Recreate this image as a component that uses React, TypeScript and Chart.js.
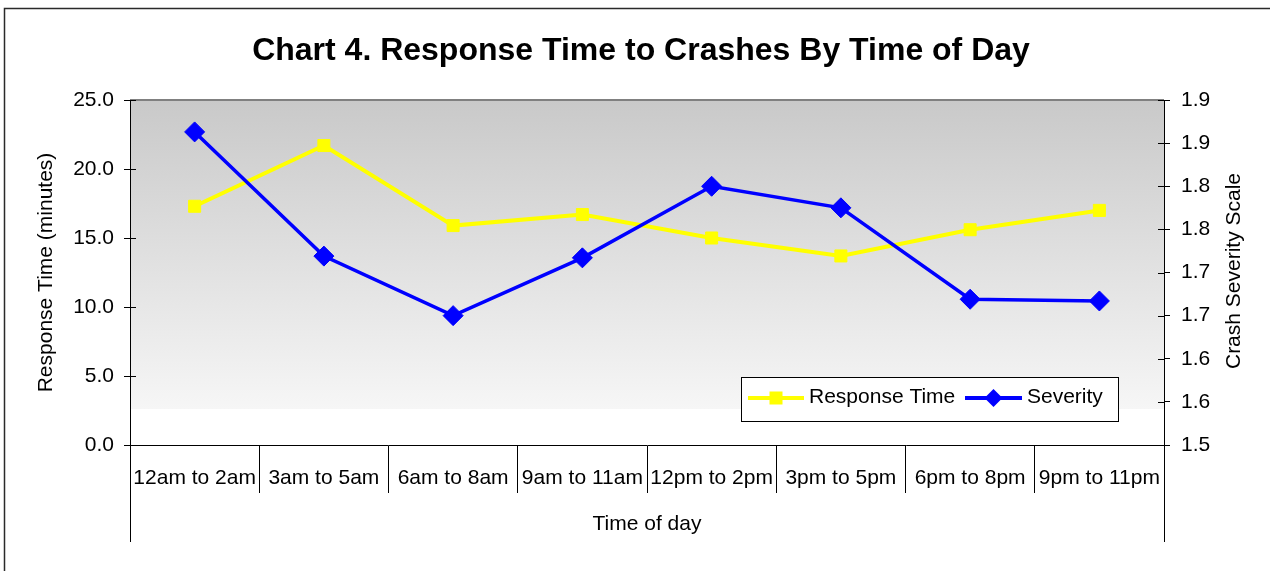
import React, { useEffect, useRef } from 'react';
import { Chart, registerables } from 'chart.js';

Chart.register(...registerables);

const chartTitle = 'Chart 4. Response Time to Crashes By Time of Day';
const categories = [
  '12am to 2am',
  '3am to 5am',
  '6am to 8am',
  '9am to 11am',
  '12pm to 2pm',
  '3pm to 5pm',
  '6pm to 8pm',
  '9pm to 11pm',
];
const responseTime = [17.3, 21.7, 15.9, 16.7, 15.0, 13.7, 15.6, 17.0];
const severity = [1.863, 1.719, 1.65, 1.717, 1.8, 1.775, 1.669, 1.667];
const leftAxis = { min: 0, max: 25, step: 5 };
const rightAxis = { min: 1.5, max: 1.9, step: 0.05 };
const xTitle = 'Time of day';
const leftTitle = 'Response Time (minutes)';
const rightTitle = 'Crash Severity Scale';

const FAMILY = '"Liberation Sans", Arial, sans-serif';
const FONT = { family: FAMILY, size: 21 };

const fmt1 = (v: number) => (Math.round(v * 10 + 1e-9) / 10).toFixed(1);

const decor = {
  id: 'decor',
  beforeDraw(chart: any) {
    const { ctx, chartArea: a } = chart;
    ctx.save();
    ctx.fillStyle = '#ffffff';
    ctx.fillRect(0, 0, chart.width, chart.height);
    // outer border
    ctx.strokeStyle = '#2a2a2a';
    ctx.lineWidth = 1.5;
    ctx.strokeRect(4.5, 8.5, chart.width + 20, chart.height + 20);
    // plot gradient
    const gEnd = 409;
    const g = ctx.createLinearGradient(0, a.top, 0, gEnd);
    g.addColorStop(0, '#c9c9c9');
    g.addColorStop(1, '#f6f6f6');
    ctx.fillStyle = g;
    ctx.fillRect(a.left, a.top, a.right - a.left, gEnd - a.top);
    // top border
    ctx.strokeStyle = '#808080';
    ctx.lineWidth = 2;
    ctx.beginPath();
    ctx.moveTo(a.left, a.top);
    ctx.lineTo(a.right, a.top);
    ctx.stroke();
    ctx.restore();
  },
  afterDraw(chart: any) {
    const { ctx, chartArea: a } = chart;
    ctx.save();
    ctx.strokeStyle = '#000';
    ctx.lineWidth = 1;
    // inner tick halves
    const y = chart.scales.y;
    y.ticks.forEach((_t: any, i: number) => {
      const p = Math.round(y.getPixelForTick(i)) + 0.5;
      ctx.beginPath();
      ctx.moveTo(a.left, p);
      ctx.lineTo(a.left + 6, p);
      ctx.stroke();
    });
    const y1 = chart.scales.y1;
    y1.ticks.forEach((_t: any, i: number) => {
      const p = Math.round(y1.getPixelForTick(i)) + 0.5;
      ctx.beginPath();
      ctx.moveTo(a.right - 6, p);
      ctx.lineTo(a.right, p);
      ctx.stroke();
    });
    // edge extensions of category axis
    [a.left, a.right].forEach((x: number) => {
      const px = Math.round(x) + 0.5;
      ctx.beginPath();
      ctx.moveTo(px, a.bottom);
      ctx.lineTo(px, 542);
      ctx.stroke();
    });
    // title
    ctx.fillStyle = '#000';
    ctx.font = `bold 32px ${FAMILY}`;
    ctx.textAlign = 'center';
    ctx.textBaseline = 'middle';
    ctx.fillText(chartTitle, 641, 51);
    // right axis title
    ctx.font = `21px ${FAMILY}`;
    ctx.save();
    ctx.translate(1234, 271);
    ctx.rotate(-Math.PI / 2);
    ctx.fillText(rightTitle, 0, 0);
    ctx.restore();
    // legend
    const L = { x: 741, y: 377, w: 377, h: 44 };
    ctx.fillStyle = '#fff';
    ctx.fillRect(L.x, L.y, L.w, L.h);
    ctx.strokeStyle = '#000';
    ctx.lineWidth = 1;
    ctx.strokeRect(L.x + 0.5, L.y + 0.5, L.w, L.h);
    const ly = 398;
    const ds = chart.data.datasets;
    const items = [
      { x0: 748, x1: 804, tx: 809, d: ds[0] },
      { x0: 965, x1: 1022, tx: 1027, d: ds[1] },
    ];
    items.forEach((it) => {
      ctx.strokeStyle = it.d.borderColor;
      ctx.lineWidth = 4;
      ctx.beginPath();
      ctx.moveTo(it.x0, ly);
      ctx.lineTo(it.x1, ly);
      ctx.stroke();
      const cx = (it.x0 + it.x1) / 2;
      ctx.fillStyle = it.d.pointBackgroundColor;
      if (it.d.pointStyle === 'rect') {
        ctx.fillRect(cx - 6.5, ly - 6.5, 13, 13);
      } else {
        ctx.beginPath();
        ctx.moveTo(cx, ly - 9);
        ctx.lineTo(cx + 9, ly);
        ctx.lineTo(cx, ly + 9);
        ctx.lineTo(cx - 9, ly);
        ctx.closePath();
        ctx.fill();
      }
      ctx.fillStyle = '#000';
      ctx.font = `21px ${FAMILY}`;
      ctx.textAlign = 'left';
      ctx.textBaseline = 'middle';
      ctx.fillText(it.d.label, it.tx, ly - 1);
    });
    ctx.restore();
  },
};

export default function App() {
  const ref = useRef<HTMLCanvasElement | null>(null);
  useEffect(() => {
    if (!ref.current) return;
    const chart = new Chart(ref.current, {
      type: 'line',
      data: {
        labels: categories,
        datasets: [
          {
            label: 'Response Time',
            data: responseTime,
            yAxisID: 'y',
            borderColor: '#ffff00',
            backgroundColor: '#ffff00',
            pointBackgroundColor: '#ffff00',
            pointBorderColor: '#ffff00',
            pointStyle: 'rect',
            pointRadius: 8.5,
            pointBorderWidth: 1,
            borderWidth: 4,
            tension: 0,
            order: 2,
          },
          {
            label: 'Severity',
            data: severity,
            yAxisID: 'y1',
            borderColor: '#0000ff',
            backgroundColor: '#0000ff',
            pointBackgroundColor: '#0000ff',
            pointBorderColor: '#0000ff',
            pointStyle: 'rectRot',
            pointRadius: 10,
            pointBorderWidth: 1,
            borderWidth: 3.5,
            tension: 0,
            order: 1,
          },
        ],
      },
      options: {
        animation: false,
        responsive: true,
        maintainAspectRatio: false,
        layout: { padding: { top: 100, left: 0, right: 0, bottom: 0 } },
        plugins: {
          legend: { display: false },
          title: { display: false },
          tooltip: { enabled: false },
        },
        scales: {
          x: {
            type: 'category',
            offset: true,
            grid: {
              offset: true,
              drawOnChartArea: false,
              color: '#000',
              tickLength: 48,
              lineWidth: 1,
            },
            border: { color: '#000', width: 1 },
            ticks: {
              color: '#000',
              font: FONT,
              padding: -27,
              maxRotation: 0,
              minRotation: 0,
              autoSkip: false,
            },
            title: {
              display: true,
              text: xTitle,
              color: '#000',
              font: FONT,
              padding: { top: 0, bottom: 34 },
            },
            afterFit: (s: any) => {
              s.height = 126;
            },
          },
          y: {
            position: 'left',
            min: leftAxis.min,
            max: leftAxis.max,
            ticks: {
              stepSize: leftAxis.step,
              callback: (v: any) => fmt1(Number(v)),
              color: '#000',
              font: FONT,
              padding: 10,
            },
            grid: { drawOnChartArea: false, tickLength: 6, color: '#000' },
            border: { color: '#000', width: 1 },
            title: {
              display: true,
              text: leftTitle,
              color: '#000',
              font: FONT,
              padding: { top: 34, bottom: 0 },
            },
            afterFit: (s: any) => {
              s.width = 130;
            },
          },
          y1: {
            position: 'right',
            min: rightAxis.min,
            max: rightAxis.max,
            ticks: {
              stepSize: rightAxis.step,
              callback: (v: any) => fmt1(Number(v)),
              color: '#000',
              font: FONT,
              padding: 11,
            },
            grid: { drawOnChartArea: false, tickLength: 6, color: '#000' },
            border: { color: '#000', width: 1 },
            afterFit: (s: any) => {
              s.width = 106;
            },
          },
        },
      },
      plugins: [decor],
    });
    return () => chart.destroy();
  }, []);
  return (
    <div style={{ position: 'fixed', left: 0, top: 0, width: 1270, height: 571, background: '#fff' }}>
      <canvas ref={ref} />
    </div>
  );
}
